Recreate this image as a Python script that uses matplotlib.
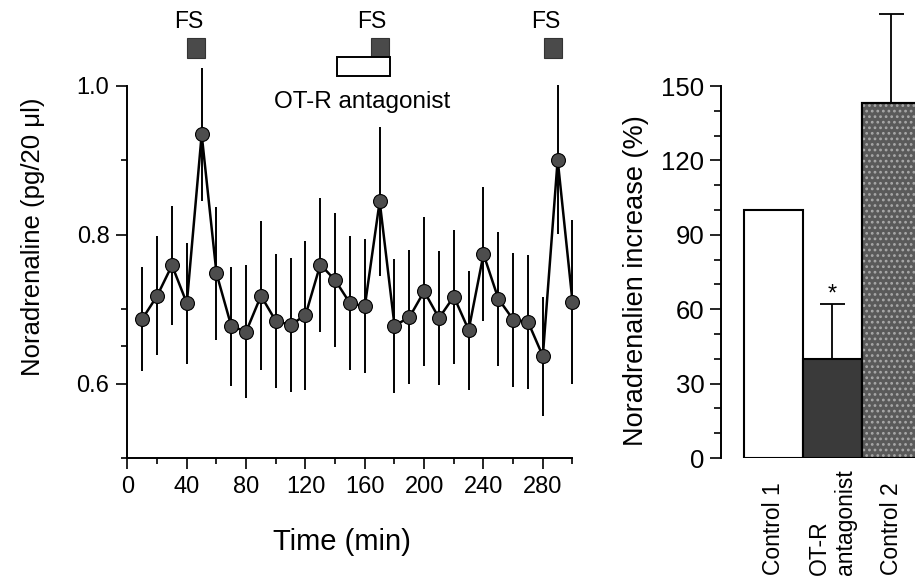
import numpy as np
import matplotlib
matplotlib.use("Agg")
import matplotlib.pyplot as plt
from matplotlib.patches import Rectangle

plt.rcParams['font.family'] = ['Liberation Sans', 'DejaVu Sans']

# time course of noradrenaline release (mean +/- SEM)
times = [10, 20, 30, 40, 50, 60, 70, 80, 90, 100, 110, 120, 130, 140, 150,
         160, 170, 180, 190, 200, 210, 220, 230, 240, 250, 260, 270, 280, 290, 300]
noradr = [0.687, 0.718, 0.759, 0.708, 0.935, 0.748, 0.677, 0.670, 0.718, 0.684,
          0.679, 0.692, 0.760, 0.739, 0.708, 0.704, 0.845, 0.678, 0.689, 0.724,
          0.688, 0.717, 0.672, 0.774, 0.714, 0.686, 0.683, 0.637, 0.901, 0.710]
noradr_sem = [0.070, 0.080, 0.080, 0.081, 0.089, 0.090, 0.080, 0.090, 0.100, 0.090,
              0.090, 0.100, 0.090, 0.090, 0.090, 0.090, 0.100, 0.090, 0.090, 0.100,
              0.090, 0.090, 0.080, 0.090, 0.090, 0.090, 0.090, 0.080, 0.100, 0.110]

# stimulus timing (min)
fs_start = [40, 164, 281]
fs_len = 12
antag_start = 141
antag_end = 177

# summary bars
groups = ['Control 1', 'OT-R\nantagonist', 'Control 2']
increase = [100, 40, 143]
increase_err = [0, 22, 36]

fig = plt.figure(figsize=(9.15, 5.82), dpi=100)

# ---- left: time course
ax1 = fig.add_axes([127.5 / 915, (582 - 458) / 582, 445 / 915, 372 / 582])
ax1.errorbar(times, noradr, yerr=noradr_sem, fmt='none', ecolor='black',
             elinewidth=1.4, capsize=0, clip_on=False, zorder=2)
ax1.plot(times, noradr, color='black', lw=1.8, marker='o', markersize=10,
         markerfacecolor='#4d4d4d', markeredgecolor='black', markeredgewidth=0.8,
         clip_on=False, zorder=3)

ax1.set_xlim(0, 300)
ax1.set_ylim(0.5, 1.0)
ax1.set_xticks([0, 40, 80, 120, 160, 200, 240, 280])
ax1.set_xticks(np.arange(0, 301, 20), minor=True)
ax1.set_yticks([0.6, 0.8, 1.0], ['0.6', '0.8', '1.0'])
ax1.set_yticks([0.5, 0.65, 0.7, 0.9], minor=True)
ax1.tick_params(which='major', direction='out', length=8, width=1.2, labelsize=17, pad=5)
ax1.tick_params(which='minor', direction='out', length=4.5, width=1.2)
for side in ['top', 'right']:
    ax1.spines[side].set_visible(False)
for side in ['left', 'bottom']:
    ax1.spines[side].set_linewidth(1.4)

ax1.set_xlabel('Time (min)', fontsize=21, va='center')
ax1.xaxis.set_label_coords(0.482, -0.225)
ax1.set_ylabel('Noradrenaline (pg/20 \u03bcl)', fontsize=18.5, va='center')
ax1.yaxis.set_label_coords(-0.212, 0.595)

# FS boxes and antagonist bar above the plot
for s in fs_start:
    ax1.add_patch(Rectangle((s, 1.037), fs_len, 0.027, facecolor='#4a4a4a',
                            edgecolor='#333333', lw=0.8, clip_on=False))
    ax1.text(s + 1, 1.087, 'FS', fontsize=16.5, ha='center', va='center')
ax1.add_patch(Rectangle((antag_start, 1.013), antag_end - antag_start, 0.026,
                        facecolor='white', edgecolor='black', lw=1.4, clip_on=False))
ax1.text(158, 0.971, 'OT-R antagonist', fontsize=17.5, ha='center', va='baseline')

# ---- right: bars
ax2 = fig.add_axes([721 / 915, (582 - 458) / 582, 194 / 915, 372 / 582])
pos = np.arange(len(groups))
fills = ['white', '#3a3a3a', '#5a5a5a']
ax2.bar(pos, increase, width=1.0, color=fills, edgecolor='black', lw=1.5, zorder=2)
plt.rcParams['hatch.linewidth'] = 1.2
ax2.bar(pos[2:], increase[2:], width=1.0, facecolor='none', edgecolor='#a8a8a8',
        hatch='...', lw=0, zorder=3)
ax2.bar(pos[2:], increase[2:], width=1.0, facecolor='none', edgecolor='black',
        lw=1.5, zorder=4)
ax2.errorbar(pos[1:], increase[1:], yerr=[[0, 0], increase_err[1:]], fmt='none',
             ecolor='black', elinewidth=1.3, capsize=9, capthick=1.3,
             clip_on=False, zorder=1)
ax2.text(pos[1], increase[1] + increase_err[1] + 4, '*', fontsize=17, ha='center', va='center')

ax2.set_xlim(-0.89, 2.40)
ax2.set_ylim(0, 150)
ax2.set_yticks([0, 30, 60, 90, 120, 150])
ax2.set_yticks(np.arange(0, 151, 10), minor=True)
ax2.tick_params(axis='y', which='major', direction='out', length=8, width=1.2, labelsize=18.5, pad=4)
ax2.tick_params(axis='y', which='minor', direction='out', length=5, width=1.2)
ax2.set_xticks(pos, groups)
ax2.tick_params(axis='x', length=0, pad=84, labelsize=16.5)
for lab in ax2.get_xticklabels():
    lab.set_rotation(90)
    lab.set_va('bottom')
    lab.set_multialignment('left')
for side in ['top', 'right', 'bottom']:
    ax2.spines[side].set_visible(False)
ax2.spines['left'].set_linewidth(1.4)
ax2.set_ylabel('Noradrenalien increase (%)', fontsize=19.5, va='center')
ax2.yaxis.set_label_coords(-0.438, 0.477)

fig.savefig('out.png', dpi=100)
